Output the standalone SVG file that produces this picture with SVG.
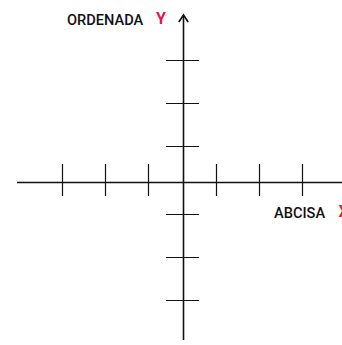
<svg xmlns="http://www.w3.org/2000/svg" width="342" height="345" viewBox="0 0 342 345">
<style>
.ax{stroke:#111;stroke-width:1.6;fill:none}
.tk{stroke:#111;stroke-width:1.2;fill:none}
.lbl{font-family:Roboto,"Liberation Sans",sans-serif;font-weight:500;font-size:14.6px;fill:#111}
.var{font-family:Roboto,"Liberation Sans",sans-serif;font-weight:700;font-size:16px;fill:#e8173a}
</style>
<g id="connectors">
<line class="ax" x1="17" y1="182.5" x2="342" y2="182.5"/>
<line class="ax" x1="183.5" y1="15" x2="183.5" y2="340"/>
<polyline class="ax" points="178.8,22 183.5,15 188.2,22" stroke-width="2"/>
</g>
<g id="x-ticks">
<line class="tk" x1="62.5" y1="164" x2="62.5" y2="196"/>
<line class="tk" x1="105.5" y1="164" x2="105.5" y2="196"/>
<line class="tk" x1="148.5" y1="164" x2="148.5" y2="196"/>
<line class="tk" x1="216.5" y1="164" x2="216.5" y2="196"/>
<line class="tk" x1="259.5" y1="164" x2="259.5" y2="196"/>
<line class="tk" x1="302.5" y1="164" x2="302.5" y2="196"/>
</g>
<g id="y-ticks">
<line class="tk" x1="166" y1="60.5" x2="199" y2="60.5"/>
<line class="tk" x1="166" y1="103.5" x2="199" y2="103.5"/>
<line class="tk" x1="166" y1="146.5" x2="199" y2="146.5"/>
<line class="tk" x1="166" y1="214.5" x2="199" y2="214.5"/>
<line class="tk" x1="166" y1="257.5" x2="199" y2="257.5"/>
<line class="tk" x1="166" y1="300.5" x2="199" y2="300.5"/>
</g>
<g id="label-y">
<text class="lbl" x="67" y="25">ORDENADA</text>
<text class="var" x="156" y="23.5">Y</text>
</g>
<g id="label-x">
<text class="lbl" x="274" y="218">ABCISA</text>
<text class="var" x="338.5" y="217">X</text>
</g>
</svg>
